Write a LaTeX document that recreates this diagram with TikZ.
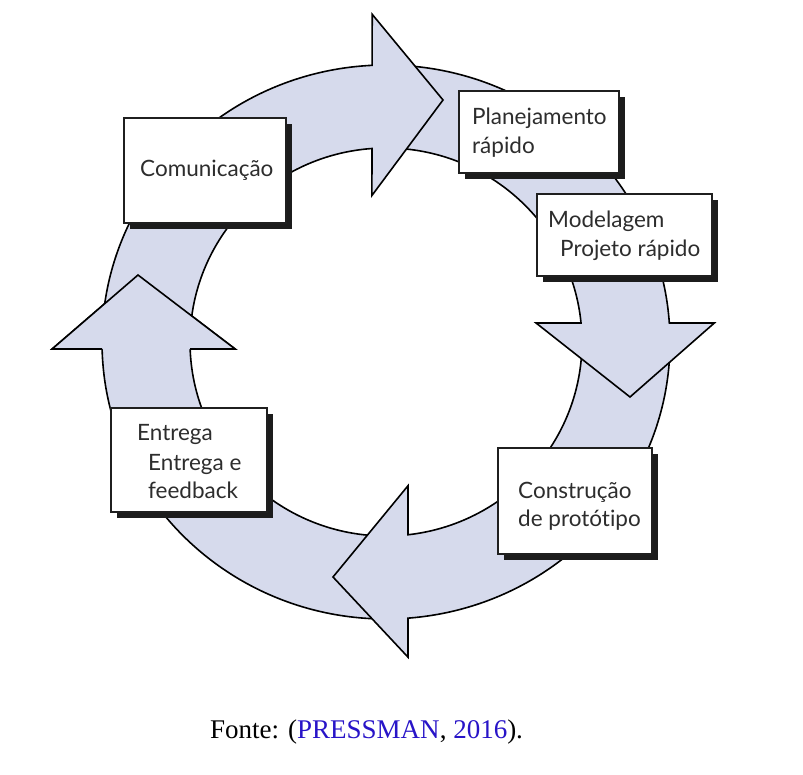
\documentclass[tikz,border=0pt]{standalone}
\usepackage{fontspec}
\setmainfont{Lato}[Ligatures=NoCommon]
\newfontfamily\capfont{Liberation Serif}
\usetikzlibrary{calc,shadows}
\definecolor{ringfill}{RGB}{214,218,236}
\definecolor{citeblue}{RGB}{40,20,200}
\definecolor{boxtext}{RGB}{45,45,45}
\definecolor{shadowc}{RGB}{28,28,28}
\newcommand\cyclearrow[7]{%
 \coordinate (#7-to) at ($(C)+(#1:284 and 277)$);
 \coordinate (#7-bo) at ($(C)+(#2:284 and 277)$);
 \coordinate (#7-bi) at ($(C)+(#3:196 and 194)$);
 \coordinate (#7-wo) at ($(#7-bo)!-#4pt!(#7-bi)$);
 \coordinate (#7-wi) at ($(#7-bi)!-#5pt!(#7-bo)$);
 \coordinate (#7-tip) at #6;
 \draw[ringline] (#7-to) arc[start angle=#1, end angle=#2, x radius=284, y radius=277]
   -- (#7-wo) -- (#7-tip) -- (#7-wi) -- (#7-bi)
   arc[start angle=#3, end angle=#1, x radius=196, y radius=194] -- cycle;
}
\begin{document}
\begin{tikzpicture}[x=1pt,y=-1pt,
  ringline/.style={draw=black, line width=1.6pt, fill=ringfill, line join=miter},
  box/.style={draw=black!88, line width=1.8pt, fill=white, inner sep=0pt,
    drop shadow={shadow xshift=6pt, shadow yshift=-6pt, fill=shadowc, opacity=1}},
  lbl/.style={anchor=base west, inner sep=0pt, text=boxtext,
    font=\fontsize{22.5}{29}\selectfont}]
\useasboundingbox (0,0) rectangle (803,775);
\fill[white] (0,0) rectangle (803,775);
\coordinate (C) at (386,342);
% ring arrows (drawn so each head covers the next tail)
\cyclearrow{91}{178.55}{177.93}{50}{45}{(138,275)}{A4}
\cyclearrow{2}{85.56}{83.56}{39}{49}{(333,577)}{A3}
\cyclearrow{273}{356.07}{354.38}{45}{45}{(630,397)}{A2}
\cyclearrow{185}{267.2}{265.9}{51}{47}{(443,100)}{A1}
% head of the left arrow over the tail of the top arrow
\fill[ringfill] (A4-bo) -- (A4-wo) -- (A4-tip) -- (A4-wi) -- (A4-bi) -- cycle;
\draw[line width=1.6pt, line join=miter] (A4-bo) -- (A4-wo) -- (A4-tip) -- (A4-wi) -- (A4-bi);
% boxes
\node[box, minimum width=162, minimum height=105] (com) at (205,170.5) {};
\node[box, minimum width=160, minimum height=82] (plan) at (539,132) {};
\node[box, minimum width=175, minimum height=82] (mod) at (624.5,235) {};
\node[box, minimum width=154, minimum height=106] (con) at (575,501) {};
\node[box, minimum width=156, minimum height=104] (ent) at (189,460) {};
% texts
\node[lbl] (comT) at (140,177) {Comunicação};
\node[lbl] (planT1) at (472,125) {Planejamento};
\node[lbl] (planT2) at (472,154) {rápido};
\node[lbl] (modT1) at (548,228) {Modelagem};
\node[lbl] (modT2) at (560,257) {Projeto rápido};
\node[lbl] (conT1) at (518,498) {Construção};
\node[lbl] (conT2) at (518,526) {de protótipo};
\node[lbl] (entT1) at (137,440) {Entrega};
\node[lbl] (entT2) at (148,470) {Entrega e};
\node[lbl] (entT3) at (148,498) {feedback};
% caption
\node[anchor=base west, inner sep=0pt, font=\capfont\fontsize{27}{32}\selectfont] (cap) at (210,738)
  {Fonte: (\textcolor{citeblue}{PRESSMAN}, \textcolor{citeblue}{2016}).};
\end{tikzpicture}
\end{document}
